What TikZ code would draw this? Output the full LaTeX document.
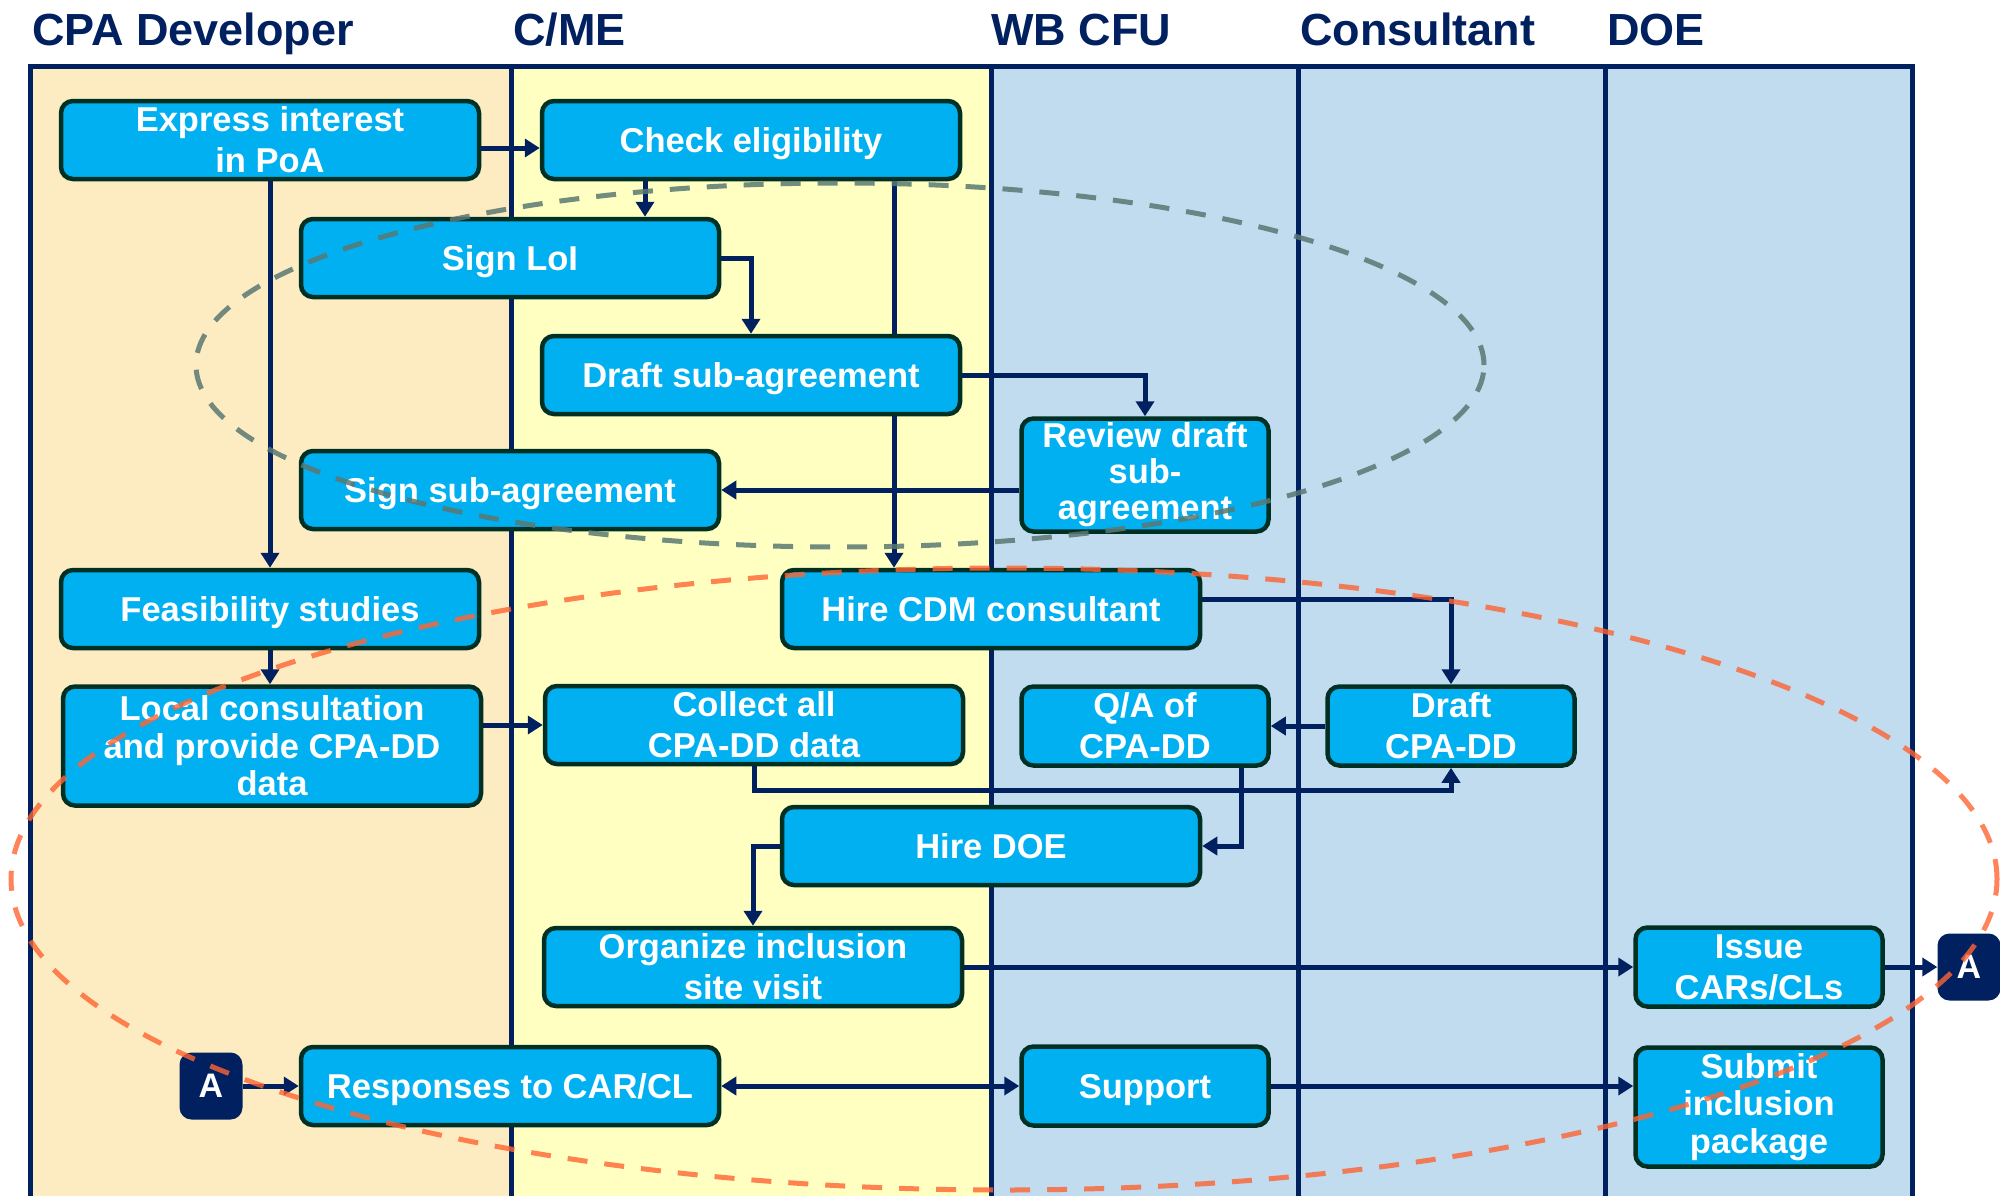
\documentclass[tikz,border=0pt]{standalone}
\usepackage{fontspec}
\setmainfont{Liberation Sans}
\usetikzlibrary{arrows.meta}
\definecolor{navy}{HTML}{002060}
\definecolor{boxfill}{HTML}{00B0F0}
\definecolor{boxline}{RGB}{0,48,36}
\definecolor{laneA}{RGB}{253,235,194}
\definecolor{laneB}{RGB}{255,255,194}
\definecolor{laneC}{RGB}{193,219,239}
\definecolor{greyell}{RGB}{90,120,115}
\definecolor{orangeell}{RGB}{255,100,50}
\pgfdeclarelayer{bg}\pgfdeclarelayer{conn}\pgfsetlayers{bg,conn,main}
\begin{document}
\begin{tikzpicture}[x=1pt,y=-1pt,
 box/.style={draw=boxline,line width=4.5pt,fill=boxfill,rounded corners=12pt,text=white,align=center,inner sep=0pt,font=\fontsize{34.5}{41}\selectfont\bfseries},
 wide/.style={minimum width=418pt,minimum height=78pt},
 narrow/.style={minimum width=247pt,minimum height=79pt},
 one/.style={text depth=0pt},
 tall/.style={minimum height=119pt,font=\fontsize{34.5}{37.5}\selectfont\bfseries},
 badge/.style={fill=navy,rounded corners=12pt,text=white,minimum width=63pt,minimum height=67pt,inner sep=0pt,text depth=0pt,font=\fontsize{34}{40}\selectfont\bfseries},
 arr/.style={draw=navy,line width=5pt,-{Triangle[length=15pt,width=18pt]}},
 darr/.style={draw=navy,line width=5pt,{Triangle[length=15pt,width=18pt]}-{Triangle[length=15pt,width=18pt]}},
 lane/.style={draw=navy,line width=5pt},
 hdr/.style={anchor=base west,inner sep=0pt,text=navy,font=\fontsize{45}{50}\selectfont\bfseries},
 ell/.style={line width=5pt,dash pattern=on 20pt off 17pt}]
\useasboundingbox (0,0) rectangle (2000,1195);
\begin{pgfonlayer}{bg}
\fill[laneA] (30,66) rectangle (511,1200);
\fill[laneB] (511,66) rectangle (991,1200);
\fill[laneC] (991,66) rectangle (1912,1200);
\draw[lane] (30,1200) -- (30,66) -- (1912,66) -- (1912,1200);
\foreach \x in {511,991,1298,1605} \draw[lane] (\x,66) -- (\x,1200);
\end{pgfonlayer}
% headers
\node[hdr] (h1) at (32,45) {CPA Developer};
\node[hdr] (h2) at (513,45) {C/ME};
\node[hdr] (h3) at (991,45) {WB CFU};
\node[hdr] (h4) at (1300,45) {Consultant};
\node[hdr] (h5) at (1607,45) {DOE};
% boxes
\node[box,wide] (exp) at (270,140) {Express interest\\in PoA};
\node[box,wide,one] (chk) at (751,140) {Check eligibility};
\node[box,wide,one] (loi) at (510,258) {Sign LoI};
\node[box,wide,one] (dsa) at (751,375) {Draft sub-agreement};
\node[box,narrow,minimum height=113pt,font=\fontsize{34.5}{36}\selectfont\bfseries] (rev) at (1145,475) {Review draft\\sub-\\agreement};
\node[box,wide,one] (ssa) at (510,490) {Sign sub-agreement};
\node[box,wide,one] (feas) at (270,609) {Feasibility studies};
\node[box,wide,one] (hcdm) at (991,609) {Hire CDM consultant};
\node[box,wide,tall] (loc) at (272,746) {Local consultation\\and provide CPA-DD\\data};
\node[box,wide] (col) at (754,725) {Collect all\\CPA-DD data};
\node[box,narrow] (qa) at (1145,726) {Q/A of\\CPA-DD};
\node[box,narrow] (dcpa) at (1451,726) {Draft\\CPA-DD};
\node[box,wide,one] (hdoe) at (991,846) {Hire DOE};
\node[box,wide] (org) at (753,967) {Organize inclusion\\site visit};
\node[box,narrow] (iss) at (1759,967) {Issue\\CARs/CLs};
\node[box,wide,one] (resp) at (510,1086) {Responses to CAR/CL};
\node[box,narrow,one] (sup) at (1145,1086) {Support};
\node[box,narrow,tall] (subm) at (1759,1107) {Submit\\inclusion\\package};
\node[badge] (aL) at (211,1086) {A};
\node[badge] (aR) at (1969,967) {A};
% connectors
\begin{pgfonlayer}{conn}
\draw[arr] ([xshift=143pt]chk.south) -- ([xshift=143pt]chk.south |- hcdm.north);
\end{pgfonlayer}
\draw[arr] ([yshift=-8pt]exp.east) -- ([yshift=-8pt]exp.east -| chk.west);
\draw[arr] ([xshift=-106pt]chk.south) -- ([xshift=-106pt]chk.south |- loi.north);
\draw[arr] (loi.east) -| (dsa.north);
\draw[arr] (dsa.east) -| (rev.north);
\draw[arr] (rev.west |- ssa.east) -- (ssa.east);
\draw[arr] (exp.south) -- (feas.north);
\draw[arr] (feas.south) -- (feas.south |- loc.north);
\draw[arr] (loc.east |- col.west) -- (col.west);
\draw[arr] (col.south) -- ++(0,24) -| (dcpa.south);
\draw[arr] ([yshift=10pt]hcdm.east) -| (dcpa.north);
\draw[arr] (dcpa.west) -- (qa.east);
\draw[arr] ([xshift=96pt]qa.south) |- (hdoe.east);
\draw[arr] (hdoe.west) -| (org.north);
\draw[arr] (org.east) -- (iss.west);
\draw[arr] (iss.east) -- (aR.west);
\draw[arr] (aL.east) -- (resp.west);
\draw[darr] (resp.east) -- (sup.west);
\draw[arr] (sup.east) -- (sup.east -| subm.west);
% ellipses
\draw[ell,draw=greyell,draw opacity=0.85] (840,365) ellipse [x radius=644pt,y radius=182pt];
\draw[ell,draw=orangeell,draw opacity=0.8] (1004,879) ellipse [x radius=993pt,y radius=311pt];
\end{tikzpicture}
\end{document}
